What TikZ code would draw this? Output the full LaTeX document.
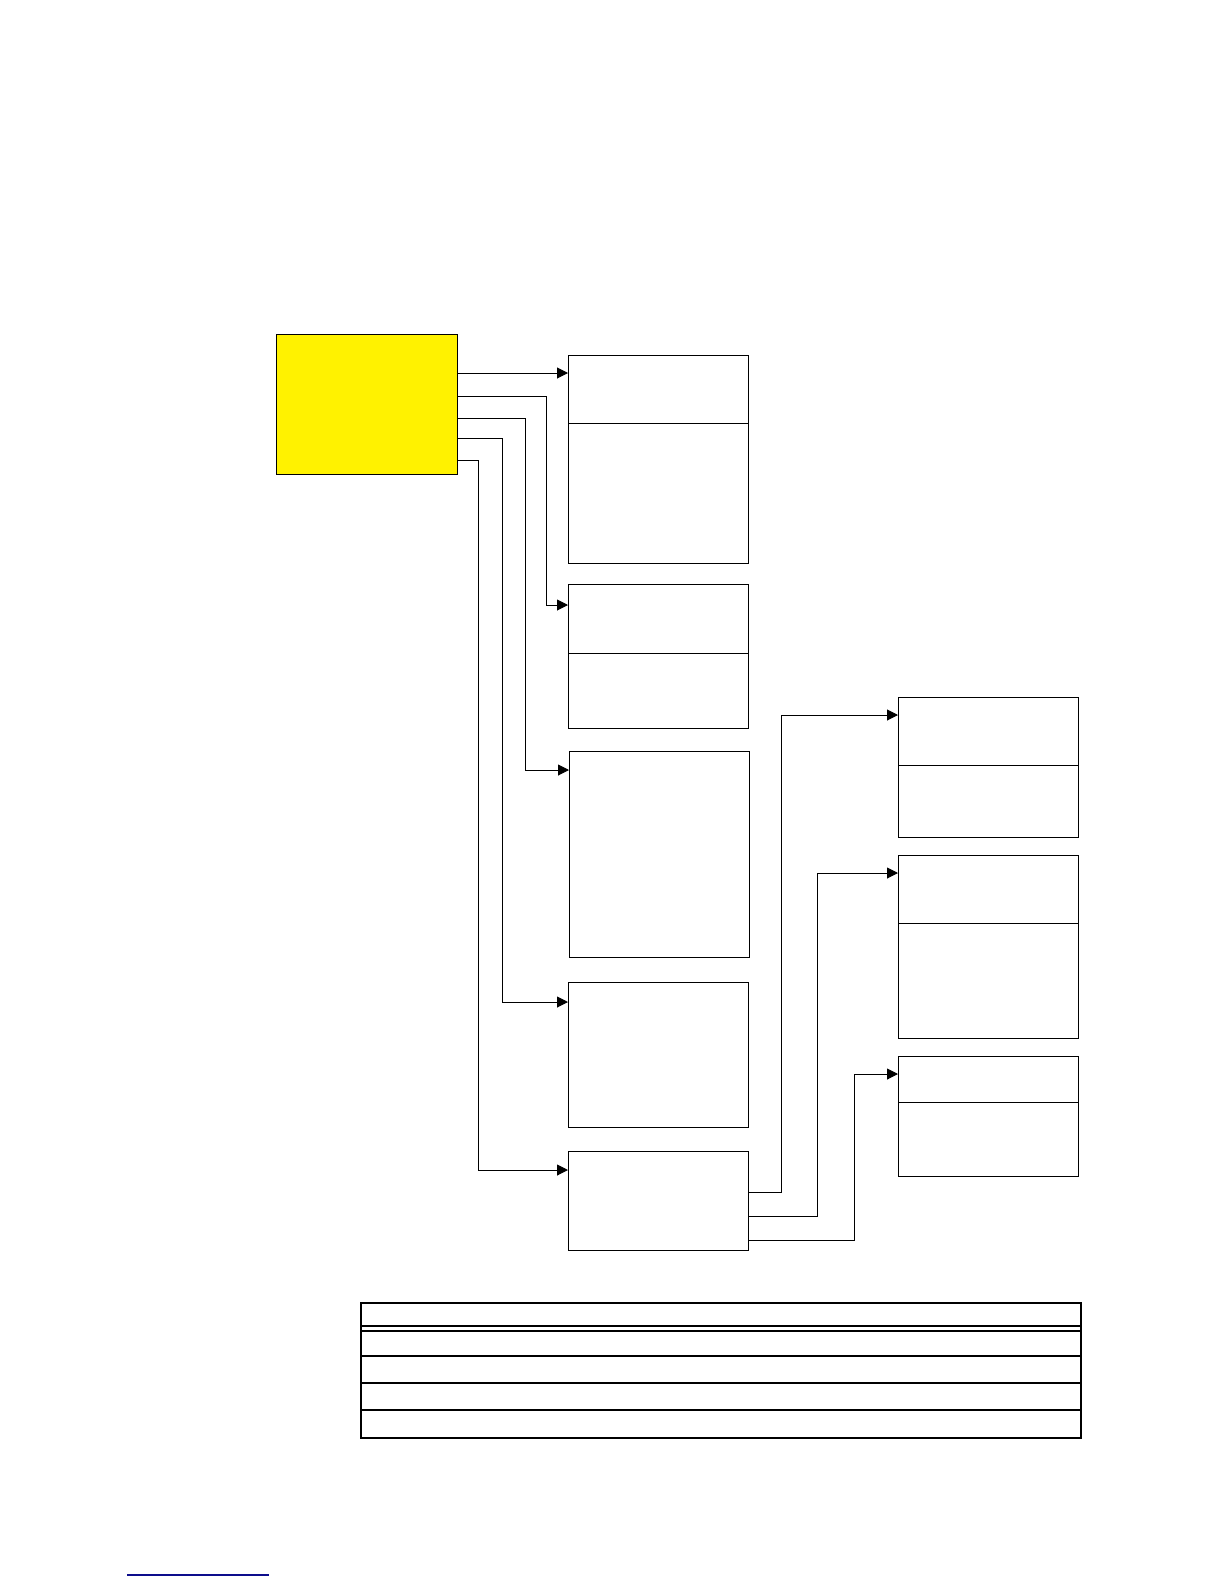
\documentclass[tikz,border=0pt]{standalone}
\usepackage{tikz}
\usetikzlibrary{arrows.meta,positioning,calc}

\begin{document}
\begin{tikzpicture}[
            x=0.5pt,y=-0.5pt,
            box/.style={draw,line width=0.5pt,anchor=north west,inner sep=0pt,minimum width=90pt},
            arr/.style={line width=0.5pt,-{Triangle[length=5.5pt,width=5.5pt]}},
            tblline/.style={line width=0.8pt}
        ]
            \definecolor{yel}{RGB}{255,242,0}
            \definecolor{lnk}{rgb}{0.05,0.05,0.55}

            \useasboundingbox (0,0) rectangle (1224,1584);

            % left column
            \node (top) [box,fill=yel,minimum width=90.5pt,minimum height=70pt] at (276,334) {};
            \node (boxA) [box,minimum height=104pt]  at (568,355)  {};
            \node (boxB) [box,minimum height=72pt]   at (568,584)  {};
            \node (boxC) [box,minimum height=103pt]  at (569,751)  {};
            \node (boxD) [box,minimum height=72.5pt] at (568,982)  {};
            \node (boxE) [box,minimum height=49.5pt] at (568,1151) {};

            % right column
            \node (boxF) [box,minimum height=70pt]   at (898,697)  {};
            \node (boxG) [box,minimum height=91.5pt] at (898,855)  {};
            \node (boxH) [box,minimum height=60pt]   at (898,1056) {};

            \draw [line width=0.5pt] (boxA.west |- 0,423)  -- (boxA.east |- 0,423);
            \draw [line width=0.5pt] (boxB.west |- 0,653)  -- (boxB.east |- 0,653);
            \draw [line width=0.5pt] (boxF.west |- 0,765)  -- (boxF.east |- 0,765);
            \draw [line width=0.5pt] (boxG.west |- 0,923)  -- (boxG.east |- 0,923);
            \draw [line width=0.5pt] (boxH.west |- 0,1102) -- (boxH.east |- 0,1102);

            % from the yellow box
            \draw [arr] (top.east |- 0,373) -- (boxA.west |- 0,373);
            \draw [arr] (top.east |- 0,396) -| (546,605)  -- (boxB.west |- 0,605);
            \draw [arr] (top.east |- 0,418) -| (525,770)  -- (boxC.west |- 0,770);
            \draw [arr] (top.east |- 0,438) -| (502,1002) -- (boxD.west |- 0,1002);
            \draw [arr] (top.east |- 0,460) -| (478,1170) -- (boxE.west |- 0,1170);

            % from the last box
            \draw [arr] (boxE.east |- 0,1192) -| (781,715)  -- (boxF.west |- 0,715);
            \draw [arr] (boxE.east |- 0,1216) -| (817,873)  -- (boxG.west |- 0,873);
            \draw [arr] (boxE.east |- 0,1240) -| (854,1074) -- (boxH.west |- 0,1074);

            % table
            \node (tbl) [box,line width=0.8pt,minimum width=360pt,minimum height=67.5pt] at (360,1302) {};
            \foreach \ry in {1326,1331,1356,1383,1410}
                \draw [tblline] (tbl.west |- 0,\ry) -- (tbl.east |- 0,\ry);

            \draw [lnk,line width=0.7pt] (127,1575) -- (269,1575);
        \end{tikzpicture}
\end{document}
